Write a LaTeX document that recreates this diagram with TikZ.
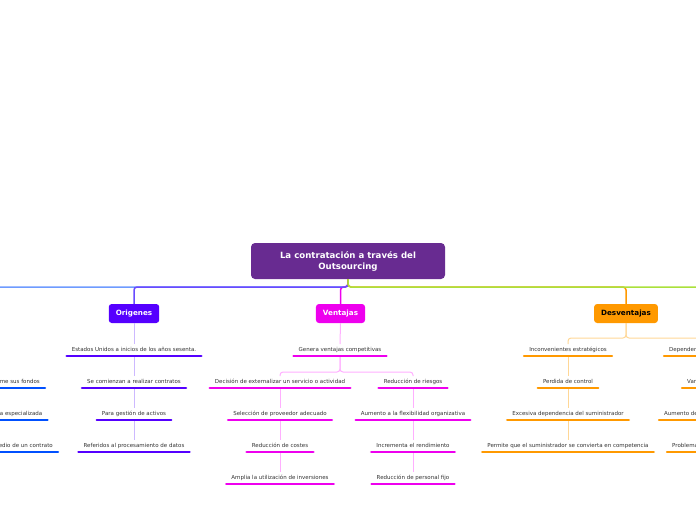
\documentclass[tikz,border=0pt]{standalone}
\usepackage{fontspec}
\setmainfont{DejaVu Sans}
\definecolor{rootc}{RGB}{104,43,145}
\definecolor{oric}{RGB}{85,0,255}
\definecolor{oritop}{RGB}{105,75,255}
\definecolor{oril}{RGB}{205,185,255}
\definecolor{venc}{RGB}{238,0,238}
\definecolor{venl}{RGB}{255,175,255}
\definecolor{desc}{RGB}{255,153,0}
\definecolor{desl}{RGB}{255,215,150}
\definecolor{defc}{RGB}{0,80,255}
\definecolor{defl}{RGB}{110,155,255}
\definecolor{grnc}{RGB}{170,225,60}
\definecolor{txtc}{RGB}{50,50,50}
\tikzset{
  root/.style={fill=rootc, rounded corners=4pt, text=white, font=\bfseries\fontsize{8.6}{11}\selectfont,
    align=center, minimum width=194pt, minimum height=36pt},
  branch/.style={fill=#1, rounded corners=3pt, text=white, font=\bfseries\fontsize{7.2}{8}\selectfont,
    minimum height=19pt, inner xsep=7pt},
  bar/.style={draw=#1, line width=2.5pt, line cap=round},
  topic/.style={text=txtc, font=\fontsize{5.5}{6.5}\selectfont, inner xsep=5pt, inner ysep=3pt,
    text height=4pt, text depth=1.2pt,
    append after command={(\tikzlastnode.south west) edge[bar=#1] (\tikzlastnode.south east)}},
  link/.style={draw=#1, line width=1pt, rounded corners=3pt},
  toplink/.style={draw=#1, line width=1.5pt, rounded corners=3pt},
}
\begin{document}
\begin{tikzpicture}[x=1pt, y=-1pt]
  \useasboundingbox (0,0) rectangle (696,520);
  \clip (0,0) rectangle (696,520);

  \node[root] (root) at (348,261) {La contratación a través del\\Outsourcing};
  \node[branch=oric] (ori) at (134,313.5) {Origenes};
  \node[branch=venc] (ven) at (340.5,313.5) {Ventajas};
  \node[branch=desc, text=black] (des) at (626,313.5) {Desventajas};

  \draw[toplink=defl] (root.south) |- (-10,287);
  \draw[toplink=venc] (root.south) |- (ven.north |- 0,287) -- (ven.north);
  \draw[toplink=oritop] (root.south) |- (ori.north |- 0,287) -- (ori.north);
  \draw[toplink=desc] (root.south) |- (des.north |- 0,287) -- (des.north);
  \draw[toplink=grnc] (root.south) |- (710,287);

  \node[topic=defc, anchor=east] (f1) at (45,382) {me sus fondos};
  \node[topic=defc, anchor=east] (f2) at (47.5,414) {a especializada};
  \node[topic=defc, anchor=east] (f3) at (58,446) {edio de un contrato};

  \node[topic=oric] (o1) at (134,350) {Estados Unidos a inicios de los años sesenta.};
  \node[topic=oric] (o2) at (134,382) {Se comienzan a realizar contratos};
  \node[topic=oric] (o3) at (134,414) {Para gestión de activos};
  \node[topic=oric] (o4) at (134,446) {Referidos al procesamiento de datos};
  \draw[link=oril] (ori.south) -- (o1.north);
  \draw[link=oril] ([yshift=-1.3pt]o1.south) -- (o2.north);
  \draw[link=oril] ([yshift=-1.3pt]o2.south) -- (o3.north);
  \draw[link=oril] ([yshift=-1.3pt]o3.south) -- (o4.north);

  \node[topic=venc] (v1) at (340,350) {Genera ventajas competitivas};
  \node[topic=venc] (v2) at (280,382) {Decisión de externalizar un servicio o actividad};
  \node[topic=venc] (v3) at (280,414) {Selección de proveedor adecuado};
  \node[topic=venc] (v4) at (280,446) {Reducción de costes};
  \node[topic=venc] (v5) at (280,478) {Amplia la utilización de inversiones};
  \node[topic=venc] (v6) at (413,382) {Reducción de riesgos};
  \node[topic=venc] (v7) at (413,414) {Aumento a la flexibilidad organizativa};
  \node[topic=venc] (v8) at (413,446) {Incrementa el rendimiento};
  \node[topic=venc] (v9) at (413,478) {Reducción de personal fijo};
  \draw[link=venl] (ven.south) -- (v1.north);
  \draw[link=venl] ([yshift=-1.3pt]v1.south) |- (v2.north |- 0,372) -- (v2.north);
  \draw[link=venl] ([yshift=-1.3pt]v1.south) |- (v6.north |- 0,372) -- (v6.north);
  \draw[link=venl] ([yshift=-1.3pt]v2.south) -- (v3.north);
  \draw[link=venl] ([yshift=-1.3pt]v3.south) -- (v4.north);
  \draw[link=venl] ([yshift=-1.3pt]v4.south) -- (v5.north);
  \draw[link=venl] ([yshift=-1.3pt]v6.south) -- (v7.north);
  \draw[link=venl] ([yshift=-1.3pt]v7.south) -- (v8.north);
  \draw[link=venl] ([yshift=-1.3pt]v8.south) -- (v9.north);

  \node[topic=desc] (d1) at (568,350) {Inconvenientes estratégicos};
  \node[topic=desc] (d2) at (568,382) {Perdida de control};
  \node[topic=desc] (d3) at (568,414) {Excesiva dependencia del suministrador};
  \node[topic=desc] (d4) at (568,446) {Permite que el suministrador se convierta en competencia};
  \node[topic=desc, anchor=west] (e1) at (664,350) {Depender};
  \node[topic=desc, anchor=west] (e2) at (682,382) {Var};
  \node[topic=desc, anchor=west] (e3) at (659,414) {Aumento de};
  \node[topic=desc, anchor=west] (e4) at (667,446) {Problema};
  \draw[link=desl] (des.south) |- (d1.north |- 0,338) -- (d1.north);
  \draw[link=desl] (des.south) |- (710,338);
  \draw[link=desl] ([yshift=-1.3pt]d1.south) -- (d2.north);
  \draw[link=desl] ([yshift=-1.3pt]d2.south) -- (d3.north);
  \draw[link=desl] ([yshift=-1.3pt]d3.south) -- (d4.north);
\end{tikzpicture}
\end{document}
